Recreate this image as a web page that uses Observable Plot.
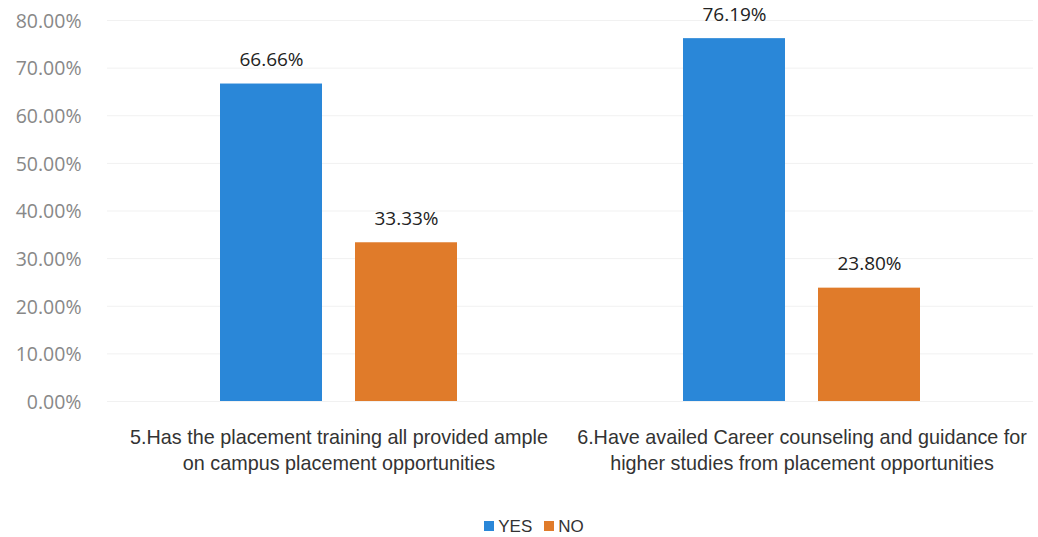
<!DOCTYPE html>
<html>
<head>
<meta charset="utf-8">
<script src="https://cdn.jsdelivr.net/npm/d3@7"></script>
<script src="https://cdn.jsdelivr.net/npm/@observablehq/plot@0.6"></script>
<style>
  html, body { margin: 0; padding: 0; background: #fff; overflow: hidden; }
  #chart { width: 1038px; }
  .legend { display: flex; justify-content: center; gap: 12px; font-family: "Liberation Sans", "Open Sans", sans-serif; font-size: 17px; line-height: 20px; color: #333; margin-top: 17px; padding-left: 30px; }
  .legend span.sw { display: inline-block; width: 10px; height: 10px; margin-right: 4px; vertical-align: 1px; }
</style>
</head>
<body>
<div id="chart"></div>
<script>
const questions = [
  "5.Has the placement training all provided ample\non campus placement opportunities",
  "6.Have availed Career counseling and guidance for\nhigher studies from placement opportunities"
];
const answers = ["YES", "NO"];
const yesValues = [66.66, 76.19];
const noValues = [33.33, 23.80];
const valueLabels = [["66.66%", "33.33%"], ["76.19%", "23.80%"]];
const yTicks = [0, 10, 20, 30, 40, 50, 60, 70, 80];
const colors = ["#2a87d8", "#e07b2a"];

const data = [];
questions.forEach((q, i) => {
  data.push({question: q, answer: "YES", value: yesValues[i], label: valueLabels[i][0]});
  data.push({question: q, answer: "NO", value: noValues[i], label: valueLabels[i][1]});
});

const plot = Plot.plot({
  width: 1038,
  height: 500,
  marginTop: 20,
  marginBottom: 99,
  marginLeft: 107,
  marginRight: 5,
  style: {fontFamily: "'Open Sans', sans-serif", background: "#fff"},
  fx: {domain: questions, padding: 0, label: null},
  x: {domain: answers, paddingInner: 0.245, paddingOuter: 0.837, axis: null},
  y: {domain: [0, 80], ticks: yTicks, label: null},
  color: {domain: answers, range: colors},
  marks: [
    Plot.gridY(yTicks, {stroke: "#f1f1f1", strokeOpacity: 1}),
    Plot.barY(data, {fx: "question", x: "answer", y: "value", fill: "answer"}),
    Plot.text(data, {fx: "question", x: "answer", y: "value", text: "label", dy: -24, fontSize: 19, fill: "#222", fontFamily: "'Open Sans', sans-serif"}),
    Plot.axisY(yTicks, {tickFormat: d => d.toFixed(2) + "%", tickSize: 0, tickPadding: 0, fontSize: 19.5, fill: "#888", anchor: "left", dx: -26, dy: 1}),
    Plot.axisFx({anchor: "bottom", tickSize: 0, tickPadding: 24, fontSize: 19.8, fill: "#333", fontFamily: "'Liberation Sans', sans-serif", lineHeight: 1.32, label: null})
  ]
});
document.getElementById("chart").appendChild(plot);

const legend = document.createElement("div");
legend.className = "legend";
answers.forEach((a, i) => {
  const item = document.createElement("div");
  const sw = document.createElement("span");
  sw.className = "sw";
  sw.style.background = colors[i];
  item.appendChild(sw);
  item.appendChild(document.createTextNode(a));
  legend.appendChild(item);
});
document.getElementById("chart").appendChild(legend);
</script>
</body>
</html>
